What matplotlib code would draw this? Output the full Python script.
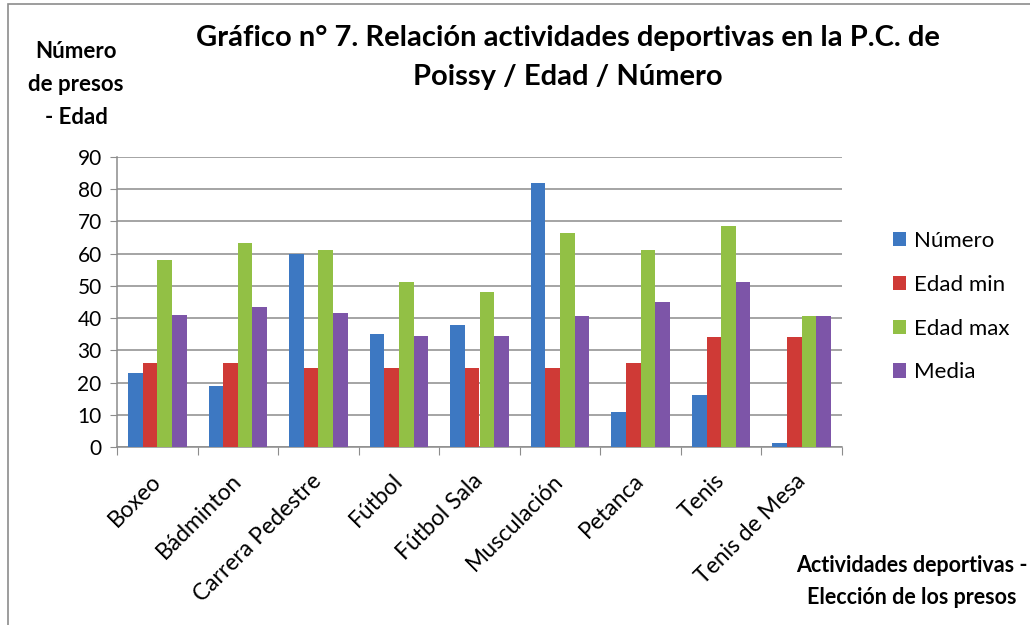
import numpy as np
import matplotlib.pyplot as plt
from matplotlib.patches import Rectangle

plt.rcParams['font.family'] = ['Lato', 'DejaVu Sans']

# Data
actividades = ['Boxeo', 'Bádminton', 'Carrera Pedestre', 'Fútbol', 'Fútbol Sala',
               'Musculación', 'Petanca', 'Tenis', 'Tenis de Mesa']
numero = [23, 19, 60, 35, 38, 82, 11, 16, 1.3]
edad_min = [26.2, 26.2, 24.4, 24.4, 24.4, 24.4, 26.2, 34.2, 34.2]
edad_max = [58, 63.3, 61.2, 51.2, 48.1, 66.4, 61.2, 68.6, 40.6]
media = [40.9, 43.3, 41.7, 34.5, 34.5, 40.7, 45.1, 51.2, 40.6]

series = [('Número', numero, '#3D78C2'),
          ('Edad min', edad_min, '#CF3A36'),
          ('Edad max', edad_max, '#92C045'),
          ('Media', media, '#7D55A8')]

fig = plt.figure(figsize=(10.3, 6.25), dpi=100)
ax = fig.add_axes([117/1030, 1 - 447/625, (842-117)/1030, (447-157)/625])

# light frame around the chart
fig.patches.append(Rectangle((8/1030, -0.1), 1.2, 1 - 4/625 + 0.1, transform=fig.transFigure,
                             fill=False, edgecolor='#8c8c8c', linewidth=1.2))

x = np.arange(len(actividades))
w = 0.182
for i, (name, vals, col) in enumerate(series):
    ax.bar(x + (i - 1.5) * w, vals, w, color=col, label=name, zorder=3)

ax.set_xlim(-0.5, len(actividades) - 0.5)
ax.set_ylim(0, 90)
ax.set_yticks(range(0, 91, 10))
ax.grid(axis='y', color='#8c8c8c', linewidth=1.1, zorder=0)
for s in ['top', 'right']:
    ax.spines[s].set_visible(False)
for s in ['left', 'bottom']:
    ax.spines[s].set_color('#8c8c8c')
    ax.spines[s].set_linewidth(1.1)

ax.set_xticks(np.arange(-0.5, len(actividades), 1))
ax.set_xticklabels([])
ax.set_xticks(x, minor=True)
ax.set_xticklabels(actividades, minor=True, rotation=45, ha='right', va='center',
                   rotation_mode='anchor', fontsize=16.5)
ax.tick_params(axis='x', which='minor', length=0, pad=22)
ax.tick_params(axis='x', which='major', length=6, color='#8c8c8c')
ax.tick_params(axis='y', length=5, color='#8c8c8c', labelsize=15, pad=6)

fig.text(0.551, 1 - 25/625, 'Gráfico n° 7. Relación actividades deportivas en la P.C. de\nPoissy / Edad / Número',
         ha='center', va='top', fontsize=21, fontweight='bold', linespacing=1.6)
fig.text(76/1030, 1 - 41/625, 'Número\nde presos\n- Edad', ha='center', va='top',
         fontsize=16, fontweight='bold', linespacing=1.7)
fig.text(912/1030, 1 - 555/625, 'Actividades deportivas -\nElección de los presos', ha='center', va='top',
         fontsize=15.5, fontweight='bold', linespacing=1.65)

fig.legend(loc='upper left', bbox_to_anchor=(873/1030, 1 - 211/625), frameon=False,
           fontsize=16, handlelength=0.6, handleheight=0.6, handletextpad=0.35,
           labelspacing=1.07)

fig.savefig('out.png', dpi=100)
